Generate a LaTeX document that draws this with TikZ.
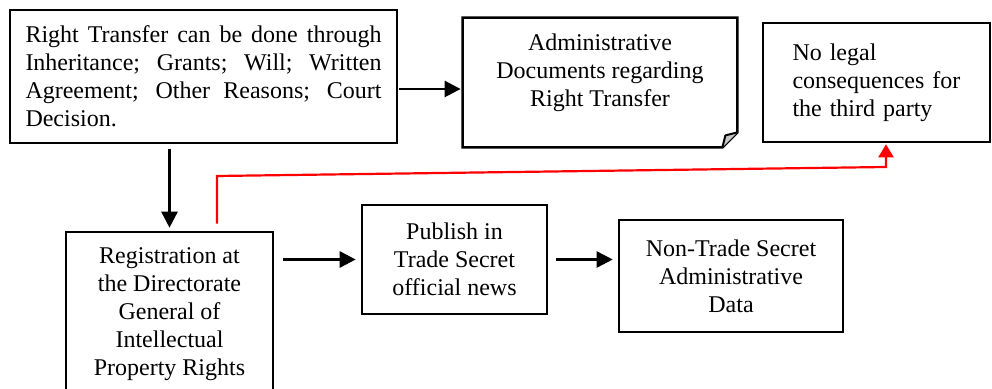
\documentclass[tikz,border=0pt]{standalone}
\usepackage{fontspec}
\setmainfont{Liberation Serif}
\usetikzlibrary{arrows.meta}
\begin{document}
\begin{tikzpicture}[x=.5pt,y=-.5pt,
  font=\fontsize{12}{14}\selectfont,
  box/.style={draw,line width=1.3pt,align=center,inner sep=0pt},
  arr/.style={line width=1.3pt,-{Triangle[length=8pt,width=8pt]}},
  redarr/.style={red,line width=1.1pt,-{Triangle[length=6.5pt,width=7.5pt]}}]
\useasboundingbox(0,0)rectangle(992,389);
% top row
\node at(203.5,76.5)[box,minimum width=193.5pt,minimum height=66.5pt,text width=178pt,align=justify](transfer){Right Transfer can be done through\linebreak Inheritance; Grants; Will; Written\linebreak Agreement; Other Reasons; Court\linebreak Decision.};
\node at(600,82.5)[minimum width=137pt,minimum height=64.5pt,inner sep=0pt](docs){};
\draw[line width=1.3pt](docs.north west)--(docs.north east)--([yshift=7.5pt]docs.south east)--([xshift=-7.5pt]docs.south east)--(docs.south west)--cycle;
\draw[line width=1pt,fill=gray!45,line join=round]([xshift=-7.5pt]docs.south east)--([xshift=-6pt,yshift=6pt]docs.south east)--([yshift=7.5pt]docs.south east);
\node at(docs.center)[yshift=5pt,align=center](docstxt){Administrative\\Documents regarding\\Right Transfer};
\node at(876.5,82.5)[box,minimum width=113.5pt,minimum height=59.5pt,text width=84pt,align=left](nolegal){No legal\\consequences for\\the third party};
% bottom row
\node at(169.5,314)[box,minimum width=103.5pt,minimum height=82pt](register){Registration at\\the Directorate\\General of\\Intellectual\\Property Rights};
\node at(454.5,259.5)[box,minimum width=92.5pt,minimum height=54.5pt](publish){Publish in\\Trade Secret\\official news};
\node at(731,276)[box,minimum width=112pt,minimum height=56pt](nontrade){Non-Trade Secret\\Administrative\\Data};
% arrows
\draw[arr,shorten <=.5pt,shorten >=1pt]([yshift=-6.25pt]transfer.east)--([yshift=-6.25pt]transfer.east -| docs.west);
\draw[arr,shorten <=2.5pt,shorten >=1.5pt](register.north |- transfer.south)--(register.north);
\draw[arr,shorten <=4.5pt,shorten >=2.5pt](register.east |- publish.west)--(publish.west);
\draw[arr,shorten <=4pt,shorten >=2.5pt](publish.east)--(publish.east -| nontrade.west);
\coordinate (r1) at(217,176);
\coordinate (r2) at(886,167);
\draw[redarr,shorten >=.5pt]([xshift=23.75pt,yshift=3.5pt]register.north)--(r1)--(r2)--(r2 |- nolegal.south);
\end{tikzpicture}
\end{document}
